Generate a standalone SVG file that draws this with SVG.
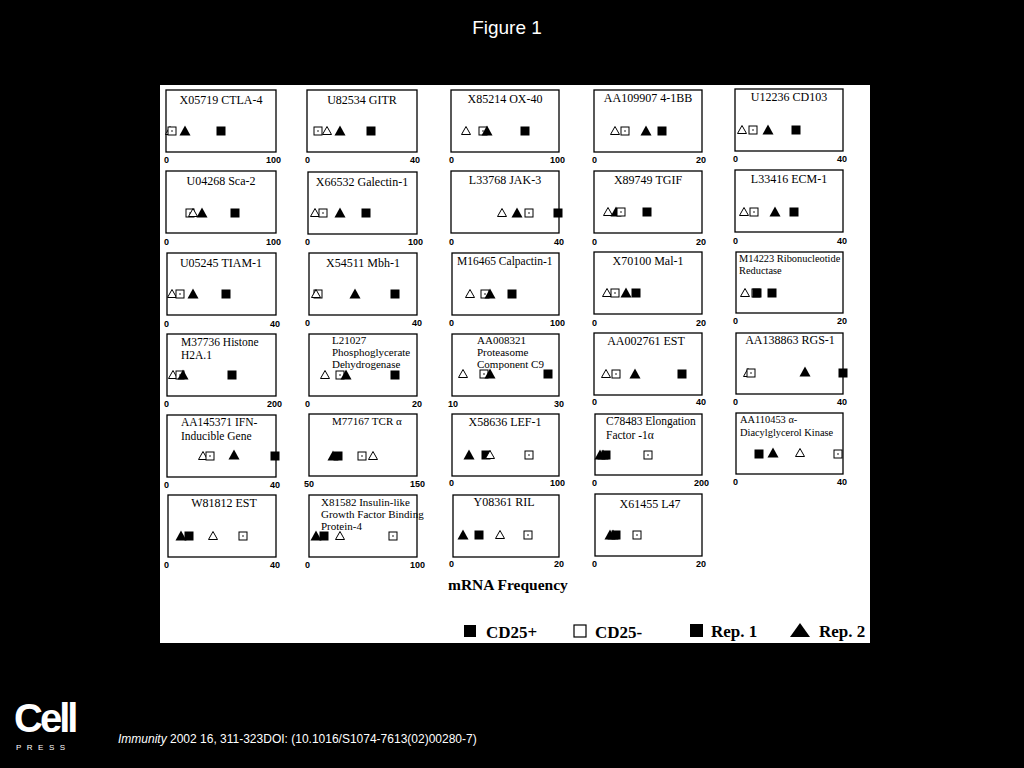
<svg xmlns="http://www.w3.org/2000/svg" xmlns:xlink="http://www.w3.org/1999/xlink" width="1024" height="768" viewBox="0 0 1024 768">
<style>
.p{fill:#fff;stroke:#000;stroke-width:1.3}
.t{font-family:"Liberation Serif",serif;font-size:12px;fill:#000}
.t.s10{font-size:11px}
.t.s9{font-size:10.4px}
.t.s11{font-size:11.5px}
.a{font-family:"Liberation Sans",sans-serif;font-size:9px;font-weight:bold;fill:#000}
.l{font-family:"Liberation Serif",serif;font-size:17px;font-weight:bold;fill:#000}
</style>
<defs>
<g id="ot"><path d="M-4.5,3.5 L0,-4.5 L4.5,3.5 Z" fill="#fff" stroke="#000" stroke-width="1"/></g>
<g id="os"><rect x="-4" y="-4" width="8" height="8" fill="#fff" stroke="#000" stroke-width="1"/><circle r="0.8" fill="#000"/></g>
<g id="fs"><rect x="-4.5" y="-4.5" width="9" height="9" fill="#000"/></g>
<g id="ft"><path d="M-5.5,4.5 L0,-5.5 L5.5,4.5 Z" fill="#000"/></g>
</defs>
<rect width="1024" height="768" fill="#000"/>
<text x="507" y="34" text-anchor="middle" font-family="Liberation Sans,sans-serif" font-size="19" fill="#fff">Figure 1</text>
<rect x="160" y="85" width="710" height="558" fill="#fff"/>

<g id="r1c1"><rect class="p" x="166" y="90" width="110" height="62"/><text class="t" x="221" y="104" text-anchor="middle">X05719 CTLA-4</text>
<use href="#ot" x="170" y="131"/><use href="#os" x="172" y="131"/><use href="#ft" x="185" y="131"/><use href="#fs" x="221" y="131"/>
<text class="a" x="164" y="163">0</text><text class="a" x="281" y="163" text-anchor="end">100</text></g>
<g id="r1c2"><rect class="p" x="307" y="90" width="110" height="62"/><text class="t" x="362" y="104" text-anchor="middle">U82534 GITR</text>
<use href="#os" x="318" y="131"/><use href="#ot" x="327" y="131"/><use href="#ft" x="340" y="131"/><use href="#fs" x="371" y="131"/>
<text class="a" x="305" y="163">0</text><text class="a" x="420" y="163" text-anchor="end">40</text></g>
<g id="r1c3"><rect class="p" x="451" y="90" width="108" height="62"/><text class="t" x="505" y="103" text-anchor="middle">X85214 OX-40</text>
<use href="#ot" x="466" y="131"/><use href="#os" x="483" y="131"/><use href="#ft" x="487" y="131"/><use href="#fs" x="525" y="131"/>
<text class="a" x="449" y="163">0</text><text class="a" x="565" y="163" text-anchor="end">100</text></g>
<g id="r1c4"><rect class="p" x="594" y="90" width="108" height="62"/><text class="t" x="648" y="102" text-anchor="middle">AA109907 4-1BB</text>
<use href="#ot" x="615" y="131"/><use href="#os" x="625" y="131"/><use href="#ft" x="646" y="131"/><use href="#fs" x="662" y="131"/>
<text class="a" x="592" y="163">0</text><text class="a" x="706" y="163" text-anchor="end">20</text></g>
<g id="r1c5"><rect class="p" x="735" y="89" width="108" height="62"/><text class="t" x="789" y="101" text-anchor="middle">U12236 CD103</text>
<use href="#ot" x="742" y="130"/><use href="#os" x="753" y="130"/><use href="#ft" x="768" y="130"/><use href="#fs" x="796" y="130"/>
<text class="a" x="733" y="162">0</text><text class="a" x="847" y="162" text-anchor="end">40</text></g>

<g id="r2c1"><rect class="p" x="166" y="171" width="110" height="62"/><text class="t" x="221" y="185" text-anchor="middle">U04268 Sca-2</text>
<use href="#os" x="190" y="213"/><use href="#ot" x="193" y="213"/><use href="#ft" x="202" y="213"/><use href="#fs" x="235" y="213"/>
<text class="a" x="164" y="245">0</text><text class="a" x="281" y="245" text-anchor="end">100</text></g>
<g id="r2c2"><rect class="p" x="308" y="172" width="109" height="62"/><text class="t" x="362" y="186" text-anchor="middle">X66532 Galectin-1</text>
<use href="#ot" x="315" y="213"/><use href="#os" x="323" y="213"/><use href="#ft" x="340" y="213"/><use href="#fs" x="366" y="213"/>
<text class="a" x="305" y="245">0</text><text class="a" x="423" y="245" text-anchor="end">100</text></g>
<g id="r2c3"><rect class="p" x="451" y="171" width="108" height="62"/><text class="t" x="505" y="184" text-anchor="middle">L33768 JAK-3</text>
<use href="#ot" x="502" y="213"/><use href="#ft" x="517" y="213"/><use href="#os" x="529" y="213"/><use href="#fs" x="558" y="213"/>
<text class="a" x="449" y="245">0</text><text class="a" x="564" y="245" text-anchor="end">40</text></g>
<g id="r2c4"><rect class="p" x="594" y="171" width="108" height="62"/><text class="t" x="648" y="184" text-anchor="middle">X89749 TGIF</text>
<use href="#ot" x="608" y="212"/><use href="#ft" x="616" y="212"/><use href="#os" x="621" y="212"/><use href="#fs" x="647" y="212"/>
<text class="a" x="592" y="245">0</text><text class="a" x="706" y="245" text-anchor="end">20</text></g>
<g id="r2c5"><rect class="p" x="735" y="170" width="108" height="62"/><text class="t" x="789" y="183" text-anchor="middle">L33416 ECM-1</text>
<use href="#ot" x="744" y="212"/><use href="#os" x="754" y="212"/><use href="#ft" x="775" y="212"/><use href="#fs" x="794" y="212"/>
<text class="a" x="733" y="244">0</text><text class="a" x="847" y="244" text-anchor="end">40</text></g>

<g id="r3c1"><rect class="p" x="167" y="253" width="109" height="62"/><text class="t" x="221" y="267" text-anchor="middle">U05245 TIAM-1</text>
<use href="#ot" x="172" y="294"/><use href="#os" x="180" y="294"/><use href="#ft" x="193" y="294"/><use href="#fs" x="226" y="294"/>
<text class="a" x="164" y="327">0</text><text class="a" x="280" y="327" text-anchor="end">40</text></g>
<g id="r3c2"><rect class="p" x="309" y="253" width="108" height="62"/><text class="t" x="363" y="267" text-anchor="middle">X54511 Mbh-1</text>
<use href="#os" x="318" y="294"/><use href="#ot" x="316" y="294"/><use href="#ft" x="355" y="294"/><use href="#fs" x="395" y="294"/>
<text class="a" x="305" y="326">0</text><text class="a" x="422" y="326" text-anchor="end">40</text></g>
<g id="r3c3"><rect class="p" x="452" y="253" width="107" height="62"/><text class="t s11" x="457" y="265">M16465 Calpactin-1</text>
<use href="#ot" x="470" y="294"/><use href="#os" x="485" y="294"/><use href="#ft" x="490" y="294"/><use href="#fs" x="512" y="294"/>
<text class="a" x="449" y="326">0</text><text class="a" x="565" y="326" text-anchor="end">100</text></g>
<g id="r3c4"><rect class="p" x="594" y="252" width="108" height="62"/><text class="t" x="648" y="265" text-anchor="middle">X70100 Mal-1</text>
<use href="#ot" x="607" y="293"/><use href="#os" x="615" y="293"/><use href="#ft" x="626" y="293"/><use href="#fs" x="636" y="293"/>
<text class="a" x="592" y="326">0</text><text class="a" x="706" y="326" text-anchor="end">20</text></g>
<g id="r3c5"><rect class="p" x="736" y="252" width="107" height="61"/><text class="t s9" x="739" y="262">M14223 Ribonucleotide</text><text class="t s9" x="739" y="274">Reductase</text>
<use href="#ot" x="745" y="293"/><use href="#os" x="756" y="293"/><use href="#fs" x="757" y="293"/><use href="#fs" x="772" y="293"/>
<text class="a" x="733" y="324">0</text><text class="a" x="847" y="324" text-anchor="end">20</text></g>

<g id="r4c1"><rect class="p" x="167" y="334" width="109" height="62"/><text class="t s11" x="181" y="346">M37736 Histone</text><text class="t s11" x="181" y="359">H2A.1</text>
<use href="#ot" x="173" y="375"/><use href="#os" x="180" y="375"/><use href="#ft" x="183" y="375"/><use href="#fs" x="232" y="375"/>
<text class="a" x="164" y="407">0</text><text class="a" x="282" y="407" text-anchor="end">200</text></g>
<g id="r4c2"><rect class="p" x="309" y="334" width="108" height="62"/><text class="t s10" x="332" y="344">L21027</text><text class="t s10" x="332" y="356">Phosphoglycerate</text><text class="t s10" x="332" y="368">Dehydrogenase</text>
<use href="#ot" x="325" y="375"/><use href="#os" x="340" y="375"/><use href="#ft" x="346" y="375"/><use href="#fs" x="395" y="375"/>
<text class="a" x="305" y="407">0</text><text class="a" x="422" y="407" text-anchor="end">20</text></g>
<g id="r4c3"><rect class="p" x="452" y="334" width="107" height="62"/><text class="t s10" x="477" y="344">AA008321</text><text class="t s10" x="477" y="356">Proteasome</text><text class="t s10" x="477" y="368">Component C9</text>
<use href="#ot" x="463" y="374"/><use href="#os" x="484" y="374"/><use href="#ft" x="490" y="374"/><use href="#fs" x="548" y="374"/>
<text class="a" x="448" y="407">10</text><text class="a" x="564" y="407" text-anchor="end">30</text></g>
<g id="r4c4"><rect class="p" x="594" y="333" width="108" height="62"/><text class="t" x="646" y="345" text-anchor="middle">AA002761 EST</text>
<use href="#ot" x="606" y="374"/><use href="#os" x="616" y="374"/><use href="#ft" x="635" y="374"/><use href="#fs" x="682" y="374"/>
<text class="a" x="592" y="405">0</text><text class="a" x="706" y="405" text-anchor="end">40</text></g>
<g id="r4c5"><rect class="p" x="736" y="333" width="107" height="61"/><text class="t" x="790" y="344" text-anchor="middle">AA138863 RGS-1</text>
<use href="#ot" x="748" y="373"/><use href="#os" x="751" y="373"/><use href="#ft" x="805" y="372"/><use href="#fs" x="843" y="373"/>
<text class="a" x="733" y="405">0</text><text class="a" x="847" y="405" text-anchor="end">40</text></g>

<g id="r5c1"><rect class="p" x="167" y="415" width="109" height="62"/><text class="t s11" x="181" y="426">AA145371 IFN-</text><text class="t s11" x="181" y="440">Inducible Gene</text>
<use href="#ot" x="203" y="456"/><use href="#os" x="210" y="456"/><use href="#ft" x="234" y="455"/><use href="#fs" x="275" y="456"/>
<text class="a" x="164" y="488">0</text><text class="a" x="280" y="488" text-anchor="end">40</text></g>
<g id="r5c2"><rect class="p" x="309" y="414" width="108" height="62"/><text class="t s10" x="332" y="425">M77167 TCR α</text>
<use href="#ft" x="333" y="456"/><use href="#fs" x="338" y="456"/><use href="#os" x="362" y="456"/><use href="#ot" x="373" y="456"/>
<text class="a" x="304" y="487">50</text><text class="a" x="425" y="487" text-anchor="end">150</text></g>
<g id="r5c3"><rect class="p" x="452" y="414" width="107" height="62"/><text class="t" x="505" y="426" text-anchor="middle">X58636 LEF-1</text>
<use href="#ft" x="469" y="455"/><use href="#fs" x="486" y="455"/><use href="#ot" x="490" y="455"/><use href="#os" x="529" y="455"/>
<text class="a" x="449" y="486">0</text><text class="a" x="565" y="486" text-anchor="end">100</text></g>
<g id="r5c4"><rect class="p" x="595" y="414" width="107" height="61"/><text class="t s11" x="606" y="425">C78483 Elongation</text><text class="t s11" x="606" y="439">Factor -1α</text>
<use href="#ft" x="600" y="455"/><use href="#ft" x="603" y="455"/><use href="#fs" x="606" y="455"/><use href="#os" x="648" y="455"/>
<text class="a" x="592" y="486">0</text><text class="a" x="709" y="486" text-anchor="end">200</text></g>
<g id="r5c5"><rect class="p" x="736" y="413" width="107" height="61"/><text class="t s9" x="740" y="423">AA110453 α-</text><text class="t s9" x="740" y="436">Diacylglycerol Kinase</text>
<use href="#fs" x="759" y="454"/><use href="#ft" x="773" y="453"/><use href="#ot" x="800" y="453"/><use href="#os" x="838" y="454"/>
<text class="a" x="733" y="485">0</text><text class="a" x="847" y="485" text-anchor="end">40</text></g>

<g id="r6c1"><rect class="p" x="168" y="495" width="108" height="62"/><text class="t" x="224" y="507" text-anchor="middle">W81812 EST</text>
<use href="#ft" x="181" y="536"/><use href="#fs" x="189" y="536"/><use href="#ot" x="213" y="536"/><use href="#os" x="243" y="536"/>
<text class="a" x="164" y="568">0</text><text class="a" x="280" y="568" text-anchor="end">40</text></g>
<g id="r6c2"><rect class="p" x="309" y="495" width="108" height="62"/><text class="t s10" x="321" y="506">X81582 Insulin-like</text><text class="t s10" x="321" y="518">Growth Factor Binding</text><text class="t s10" x="321" y="530">Protein-4</text>
<use href="#ft" x="316" y="536"/><use href="#fs" x="324" y="536"/><use href="#ot" x="340" y="536"/><use href="#os" x="393" y="536"/>
<text class="a" x="305" y="568">0</text><text class="a" x="425" y="568" text-anchor="end">100</text></g>
<g id="r6c3"><rect class="p" x="453" y="495" width="106" height="62"/><text class="t" x="504" y="506" text-anchor="middle">Y08361 RIL</text>
<use href="#ft" x="463" y="535"/><use href="#fs" x="479" y="535"/><use href="#ot" x="500" y="535"/><use href="#os" x="528" y="535"/>
<text class="a" x="449" y="567">0</text><text class="a" x="564" y="567" text-anchor="end">20</text></g>
<g id="r6c4"><rect class="p" x="595" y="494" width="107" height="62"/><text class="t" x="650" y="508" text-anchor="middle">X61455 L47</text>
<use href="#ft" x="610" y="535"/><use href="#ft" x="613" y="535"/><use href="#fs" x="616" y="535"/><use href="#os" x="637" y="535"/>
<text class="a" x="592" y="567">0</text><text class="a" x="706" y="567" text-anchor="end">20</text></g>

<text x="448" y="590" font-family="Liberation Serif,serif" font-size="15.5" font-weight="bold">mRNA Frequency</text>
<g id="legend">
<rect x="464" y="625" width="12" height="12" fill="#000"/><text class="l" x="486" y="638">CD25+</text>
<rect x="574" y="625" width="12" height="12" fill="#fff" stroke="#000" stroke-width="1.2"/><text class="l" x="595" y="638">CD25-</text>
<rect x="690" y="624" width="13" height="13" fill="#000"/><text class="l" x="711" y="637">Rep. 1</text>
<path d="M790,637 L800,623 L810,637 Z" fill="#000"/><text class="l" x="819" y="637">Rep. 2</text>
</g>
<text x="14" y="732" font-family="Liberation Sans,sans-serif" font-size="40" font-weight="bold" fill="#fff" letter-spacing="-3">Cell</text>
<text x="16" y="750" font-family="Liberation Sans,sans-serif" font-size="8" fill="#fff" letter-spacing="5.5">PRESS</text>
<text x="118" y="743" font-family="Liberation Sans,sans-serif" font-size="12" fill="#fff"><tspan font-style="italic">Immunity</tspan> 2002 16, 311-323DOI: (10.1016/S1074-7613(02)00280-7)</text>
</svg>
